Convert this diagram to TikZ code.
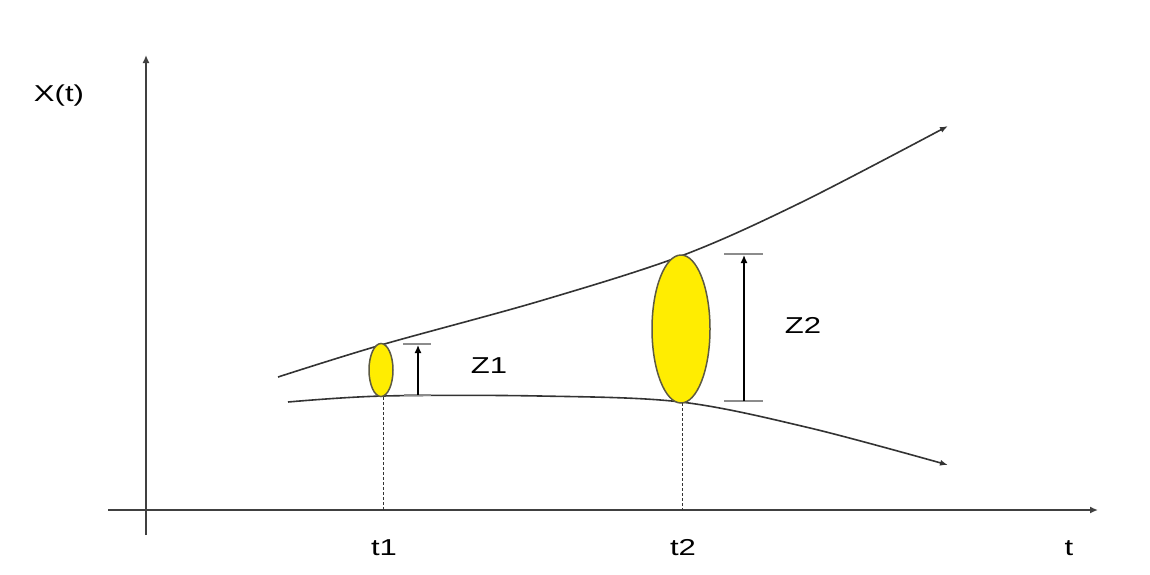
\documentclass[tikz,border=0pt]{standalone}
\usepackage{fontspec}
\setmainfont{Liberation Sans}
\usetikzlibrary{arrows.meta,shapes.geometric}
\begin{document}
\begin{tikzpicture}[x=1pt,y=-1pt,
  lbl/.style={font=\fontsize{23}{26}\selectfont, inner sep=1pt, xscale=1.35},
  axis/.style={draw=black!75, line width=1.6pt, -{Latex[length=8pt,width=7pt]}},
  curve/.style={draw=black!80, line width=1.6pt, -{Latex[length=8pt,width=6pt]}},
  blob/.style={fill=yellow!95!orange, draw=black!55!yellow!60!black, line width=1.5pt},
  meas/.style={draw=black, line width=1.4pt, -{Latex[length=8pt,width=7pt]}},
  tickbar/.style={draw=black!45, line width=1.6pt},
  guide/.style={draw=black!80, line width=0.9pt, dash pattern=on 3pt off 2pt}]
\useasboundingbox (0,0) rectangle (1150,574);
\fill[white] (0,0) rectangle (1150,574);
% axes
\coordinate (yb) at (146,535);
\coordinate (yt) at (146,55);
\coordinate (xl) at (108,510);
\coordinate (xr) at (1098,510);
\draw[axis] (yb) -- (yt);
\draw[axis] (xl) -- (xr);
% curves
\draw[curve] plot[smooth, tension=0.55] coordinates {(278,377) (381,345) (540,301) (681,256) (800,203) (948,126)};
\draw[curve] plot[smooth, tension=0.55] coordinates {(288,402) (383,396) (540,396) (681,402) (810,428) (948,465)};
% ellipses
\node[blob, ellipse, minimum width=24pt, minimum height=53pt, inner sep=0pt] (e1) at (381,370) {};
\node[blob, ellipse, minimum width=58pt, minimum height=148pt, inner sep=0pt] (e2) at (681,329) {};
% guides
\coordinate (g1t) at (383,397);
\coordinate (g1b) at (383,510);
\coordinate (g2t) at (682,403);
\coordinate (g2b) at (682,510);
\draw[guide] (g1t) -- (g1b);
\draw[guide] (g2t) -- (g2b);
% Z1 measure
\coordinate (z1a) at (403,344);
\coordinate (z1b) at (431,344);
\coordinate (z1c) at (404,395);
\coordinate (z1d) at (431,395);
\draw[tickbar] (z1a) -- (z1b);
\draw[tickbar] (z1c) -- (z1d);
\coordinate (z1bot) at (418,395);
\coordinate (z1top) at (418,345);
\draw[meas] (z1bot) -- (z1top);
% Z2 measure
\coordinate (z2a) at (724,254);
\coordinate (z2b) at (763,254);
\coordinate (z2c) at (724,401);
\coordinate (z2d) at (763,401);
\draw[tickbar] (z2a) -- (z2b);
\draw[tickbar] (z2c) -- (z2d);
\coordinate (z2bot) at (744,401);
\coordinate (z2top) at (744,255);
\draw[meas] (z2bot) -- (z2top);
% labels
\node[lbl] (xt) at (59,96) {X(t)};
\node[lbl] (lz1) at (489,366) {Z1};
\node[lbl] (lz2) at (803,325) {Z2};
\node[lbl] (lt1) at (384,548) {t1};
\node[lbl] (lt2) at (683,548) {t2};
\node[lbl] (lt) at (1069,548) {t};
\end{tikzpicture}
\end{document}
